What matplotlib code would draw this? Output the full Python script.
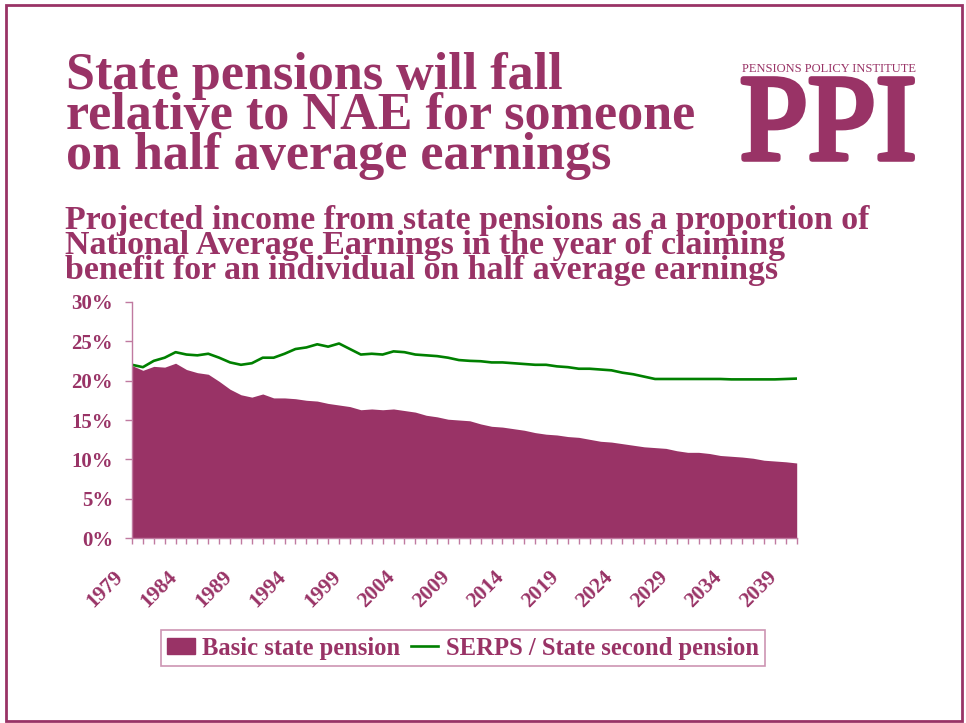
import matplotlib
matplotlib.use('Agg')
import matplotlib.pyplot as plt
import matplotlib.patheffects as pe
from matplotlib.patches import Patch, Rectangle
from matplotlib.lines import Line2D
from matplotlib.transforms import ScaledTranslation

# projected state pension income, % of national average earnings
years = list(range(1979, 2041))
basic_pension = [21.9, 21.3, 21.8, 21.7, 22.2, 21.4, 21.0, 20.8, 19.9, 18.9,
                 18.2, 17.9, 18.3, 17.8, 17.8, 17.7, 17.5, 17.4, 17.1, 16.9,
                 16.7, 16.3, 16.4, 16.3, 16.4, 16.2, 16.0, 15.6, 15.4, 15.1,
                 15.0, 14.9, 14.5, 14.2, 14.1, 13.9, 13.7, 13.4, 13.2, 13.1,
                 12.9, 12.8, 12.55, 12.3, 12.2, 12.0, 11.8, 11.6, 11.5, 11.4,
                 11.1, 10.9, 10.9, 10.75, 10.5, 10.4, 10.3, 10.15, 9.9, 9.8,
                 9.7, 9.55]
# basic + SERPS / S2P combined
serps_line = [22.0, 21.7, 22.5, 22.9, 23.6, 23.3, 23.2, 23.4, 22.9, 22.3,
              22.0, 22.2, 22.9, 22.9, 23.4, 24.0, 24.2, 24.6, 24.3, 24.7,
              24.0, 23.3, 23.4, 23.3, 23.7, 23.6, 23.3, 23.2, 23.1, 22.9,
              22.6, 22.5, 22.45, 22.3, 22.3, 22.2, 22.1, 22.0, 22.0, 21.8,
              21.7, 21.5, 21.5, 21.4, 21.3, 21.0, 20.8, 20.5, 20.2, 20.2,
              20.2, 20.2, 20.2, 20.2, 20.2, 20.15, 20.15, 20.15, 20.15, 20.15,
              20.2, 20.25]
label_years = list(range(1979, 2041, 5))
y_ticks = [0, 5, 10, 15, 20, 25, 30]

title_lines = ['State pensions will fall',
               'relative to NAE for someone',
               'on half average earnings']
subtitle_lines = ['Projected income from state pensions as a proportion of',
                  'National Average Earnings in the year of claiming',
                  'benefit for an individual on half average earnings']

plum = '#993366'
axis_pink = '#c07aa0'
green = '#008000'
serif = 'Liberation Serif'

W, H = 966, 723


def fx(x):
    return x / W


def fy(y):
    return 1 - y / H


fig = plt.figure(figsize=(W / 100, H / 100), dpi=100)

# page border
fig.patches.append(Rectangle((fx(6), fy(721)), fx(962) - fx(6), fy(5) - fy(721),
                             transform=fig.transFigure, fill=False,
                             edgecolor=plum, lw=2))

# headline
for i, line in enumerate(title_lines):
    fig.text(fx(66), fy(89.5 + 40 * i), line, family=serif, weight='bold',
             fontsize=37.5, color=plum, va='baseline', ha='left')

for i, line in enumerate(subtitle_lines):
    fig.text(fx(65), fy(229.5 + 24.7 * i), line, family=serif, weight='bold',
             fontsize=24.4, color=plum, va='baseline', ha='left')

# PPI logo
fig.text(fx(829), fy(71.7), 'PENSIONS POLICY INSTITUTE', family=serif,
         fontsize=9, color=plum, ha='center', va='baseline')
fig.text(fx(828), fy(159), 'PPI', family=serif, fontsize=88, color=plum,
         ha='center', va='baseline',
         path_effects=[pe.withStroke(linewidth=4, foreground=plum)])

# chart
ax = fig.add_axes([fx(132), fy(538.3), (796.7 - 132) / W, (538.3 - 301.7) / H])
ax.fill_between(years, basic_pension, color=plum, lw=0)
ax.plot(years, serps_line, color=green, lw=1.9)
ax.set_xlim(years[0], years[-1])
ax.set_ylim(0, 30)

for side in ['top', 'right']:
    ax.spines[side].set_visible(False)
for side in ['left', 'bottom']:
    ax.spines[side].set_color(axis_pink)
    ax.spines[side].set_linewidth(1)

ax.set_yticks(y_ticks)
ax.set_yticklabels([f'{v}%' for v in y_ticks])
ax.set_xticks(years)
ax.set_xticklabels([str(y) if y in label_years else '' for y in years])
ax.tick_params(axis='y', direction='out', length=5, width=1, color=axis_pink,
               pad=8.5, labelcolor=plum, labelsize=15)
ax.tick_params(axis='x', direction='out', length=4.5, width=1, color=axis_pink,
               pad=16, labelcolor=plum, labelsize=15.5)
for lab in ax.get_yticklabels():
    lab.set_fontfamily(serif)
    lab.set_fontweight('bold')
shift = ScaledTranslation(-0.05, 0, fig.dpi_scale_trans)
for lab in ax.get_xticklabels():
    lab.set_fontfamily(serif)
    lab.set_fontweight('bold')
    lab.set_rotation(45)
    lab.set_ha('right')
    lab.set_va('top')
    lab.set_transform(lab.get_transform() + shift)

handles = [Patch(facecolor=plum, edgecolor=plum),
           Line2D([0], [0], color=green, lw=1.9)]
leg = fig.legend(handles, ['Basic state pension', 'SERPS / State second pension'],
                 loc='center', bbox_to_anchor=(fx(463), fy(648)), ncol=2,
                 prop={'family': serif, 'weight': 'bold', 'size': 17.7},
                 labelcolor=plum, frameon=True, fancybox=False,
                 edgecolor=axis_pink, borderpad=0.25, handlelength=1.1,
                 handleheight=0.6, handletextpad=0.3, columnspacing=0.45,
                 borderaxespad=0)
leg.get_frame().set_linewidth(1.2)

fig.savefig('out.png', dpi=100)
